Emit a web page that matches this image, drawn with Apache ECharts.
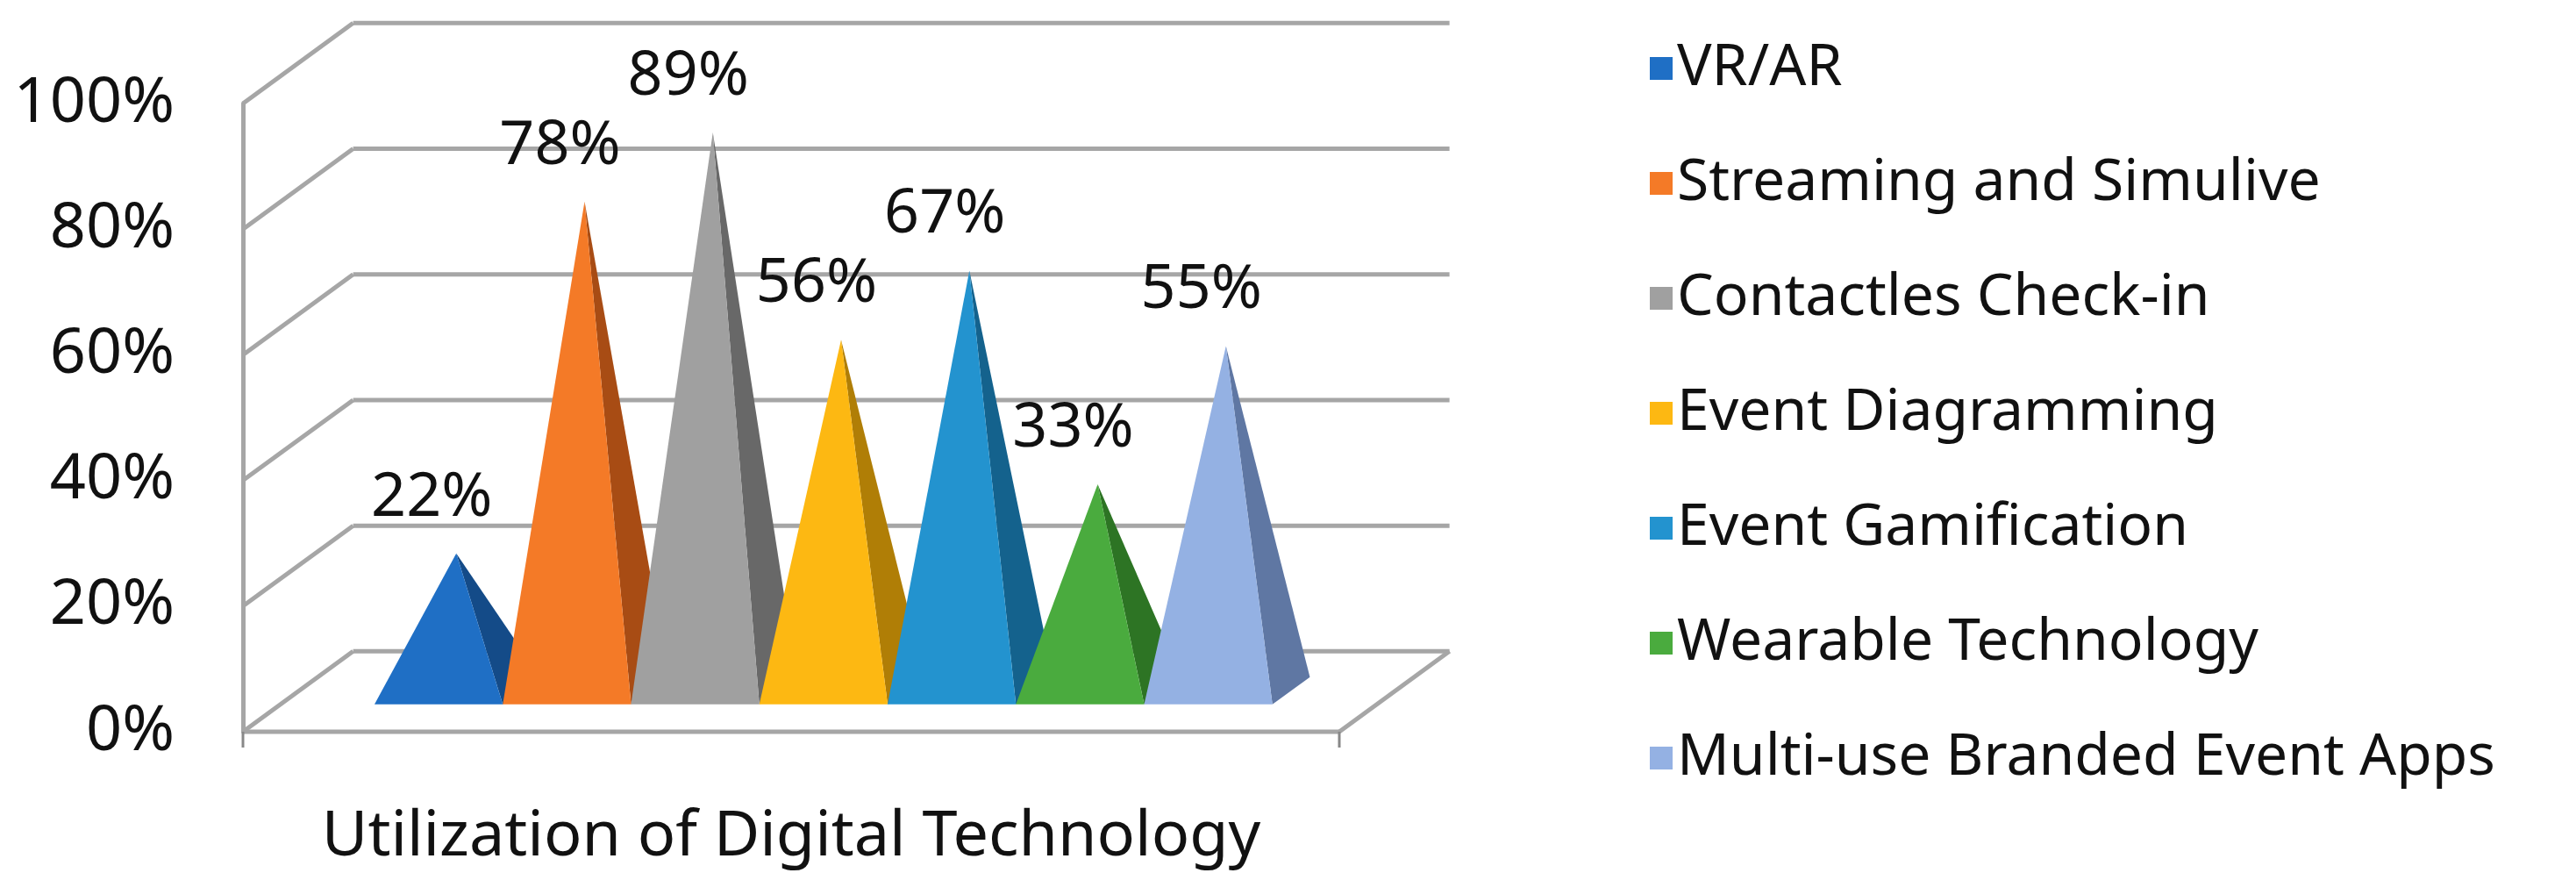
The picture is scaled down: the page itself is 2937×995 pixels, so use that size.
<!DOCTYPE html>
<html>
<head>
<meta charset="utf-8">
<script src="https://cdn.jsdelivr.net/npm/echarts@6/dist/echarts.min.js"></script>
<style>
  html, body { margin: 0; padding: 0; background: #fff; }
  #chart-container { width: 2937px; height: 995px; }
</style>
</head>
<body>
<div id="chart-container"></div>
<script>
const categories = [
  'VR/AR',
  'Streaming and Simulive',
  'Contactles Check-in',
  'Event Diagramming',
  'Event Gamification',
  'Wearable Technology',
  'Multi-use Branded Event Apps'
];
const values = [22, 78, 89, 56, 67, 33, 55];
const frontColors = ['#1f6fc5', '#f47a27', '#a0a0a0', '#fdb812', '#2393cf', '#4aab3e', '#94b1e3'];
const sideColors = ['#144b88', '#a84c14', '#686868', '#b07e06', '#14628d', '#2d7424', '#5f77a3'];
const yTicks = [0, 20, 40, 60, 80, 100];
const axisTitle = 'Utilization of Digital Technology';

const FONT = '"Noto Sans", "Open Sans", sans-serif';

function geo(api) {
  let o = api.coord([0, 0]);
  let r = api.coord([1, 0]);
  let t = api.coord([0, 100]);
  let W = r[0] - o[0];
  let H = o[1] - t[1];
  return { x0: o[0], y0: o[1], W, H, dx: W * 0.1005, dy: -H * 0.128 };
}

function gridRender(params, api) {
  let g = geo(api);
  let children = [];
  let style = { stroke: '#a6a6a6', lineWidth: 5 };
  yTicks.forEach((v) => {
    let yv = api.coord([0, v])[1];
    children.push({ type: 'line', shape: { x1: g.x0 + g.dx, y1: yv + g.dy, x2: g.x0 + g.W + g.dx, y2: yv + g.dy }, style });
    children.push({ type: 'line', shape: { x1: g.x0, y1: yv, x2: g.x0 + g.dx, y2: yv + g.dy }, style });
  });
  // floor
  children.push({ type: 'line', shape: { x1: g.x0, y1: g.y0, x2: g.x0 + g.W, y2: g.y0 }, style });
  children.push({ type: 'line', shape: { x1: g.x0 + g.W, y1: g.y0, x2: g.x0 + g.W + g.dx, y2: g.y0 + g.dy }, style });
  // ticks under floor
  children.push({ type: 'line', shape: { x1: g.x0, y1: g.y0, x2: g.x0, y2: g.y0 + 18 }, style: { stroke: '#888', lineWidth: 3 } });
  children.push({ type: 'line', shape: { x1: g.x0 + g.W, y1: g.y0, x2: g.x0 + g.W, y2: g.y0 + 18 }, style: { stroke: '#888', lineWidth: 3 } });
  return { type: 'group', children };
}

function pyramidRender(i) {
  return function (params, api) {
    let g = geo(api);
    let v = values[i];
    let bw = g.W * 0.117;
    let fx = g.x0 + g.W * (0.12 + 0.117 * i);
    let d0 = 0.34, d1 = 0.68, dc = 0.5;
    let FL = [fx, g.y0 + g.dy * d0];
    let FR = [fx + bw, g.y0 + g.dy * d0];
    let BR = [fx + bw + g.dx * (d1 - d0), g.y0 + g.dy * d1];
    let apex = [fx + bw / 2 + g.dx * (dc - d0), g.y0 + g.dy * dc - g.H * v / 100];
    return {
      type: 'group',
      children: [
        { type: 'polygon', shape: { points: [FR, BR, apex] }, style: { fill: sideColors[i] } },
        { type: 'polygon', shape: { points: [FL, FR, apex] }, style: { fill: frontColors[i] } },
        {
          type: 'text',
          x: apex[0] - 28, y: apex[1] - 28,
          style: { text: v + '%', fill: '#111', font: '70px ' + FONT, align: 'center', verticalAlign: 'bottom' }
        }
      ]
    };
  };
}

let series = [{
  name: '_grid',
  type: 'custom',
  renderItem: gridRender,
  data: [[0, 0]],
  silent: true,
  z: 1
}];
categories.forEach((name, i) => {
  series.push({
    name,
    type: 'custom',
    renderItem: pyramidRender(i),
    data: [[0, values[i]]],
    itemStyle: { color: frontColors[i] },
    z: 2
  });
});

let option = {
  animation: false,
  grid: { left: 277, top: 118, width: 1250, bottom: 147 },
  xAxis: {
    type: 'value', min: 0, max: 1,
    show: true,
    axisLine: { show: false },
    axisTick: { show: false },
    axisLabel: { show: false },
    splitLine: { show: false },
    name: axisTitle,
    nameLocation: 'middle',
    nameGap: 84,
    nameTextStyle: { fontSize: 72, fontFamily: FONT, color: '#111' }
  },
  yAxis: {
    type: 'value', min: 0, max: 100, interval: 20,
    axisLine: { show: true, lineStyle: { color: '#a6a6a6', width: 5 } },
    axisTick: { show: false },
    splitLine: { show: false },
    axisLabel: { formatter: '{value}%', fontSize: 72, fontFamily: FONT, color: '#111', margin: 78 }
  },
  legend: {
    data: categories.map((name) => ({ name, icon: 'rect' })),
    orient: 'vertical',
    left: 1876,
    top: 37,
    itemWidth: 26,
    itemHeight: 26,
    itemGap: 59,
    textStyle: { fontSize: 66, fontFamily: FONT, color: '#111', lineHeight: 72 }
  },
  series
};

var myChart = echarts.init(document.getElementById('chart-container'));
myChart.setOption(option);
window.addEventListener('resize', myChart.resize);
</script>
</body>
</html>
